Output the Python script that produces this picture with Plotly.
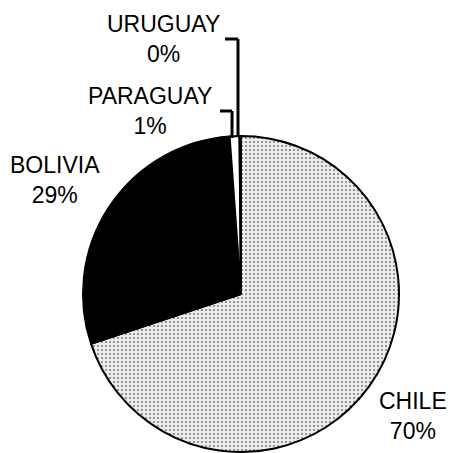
import plotly.graph_objects as go

W, H = 450, 453

countries = ["CHILE", "BOLIVIA", "PARAGUAY", "URUGUAY"]
shares = [70.0, 29.0, 1.0, 0.15]
colors = ["#ececec", "#000000", "#ffffff", "#ffffff"]

total = sum(shares)
pct_labels = [f"{round(v / total * 100):.0f}%" for v in shares]


def px(x, y):
    return x / W, 1 - y / H


# pie box in pixels (center ~ (241, 294), r ~ 158)
cx, cy, r = 241, 294, 158
x0, y_top = px(cx - r, cy - r)
x1, y_bot = px(cx + r, cy + r)

fig = go.Figure()
fig.add_trace(go.Pie(
    labels=countries,
    values=shares,
    sort=False,
    direction="clockwise",
    rotation=0,
    textinfo="none",
    hoverinfo="label+percent",
    marker=dict(
        colors=colors,
        line=dict(color="black", width=2),
        pattern=dict(
            shape=[".", "", "", ""],
            fgcolor="#808080",
            bgcolor=colors,
            size=4,
            solidity=0.22,
        ),
    ),
    domain=dict(x=[x0, x1], y=[y_bot, y_top]),
    showlegend=False,
))

# label positions (pixel centers of two-line labels)
label_pos = {
    "CHILE": (413, 416),
    "BOLIVIA": (55, 180),
    "PARAGUAY": (150, 111),
    "URUGUAY": (163, 39),
}
for name, pct in zip(countries, pct_labels):
    lx, ly = px(*label_pos[name])
    fig.add_annotation(
        x=lx, y=ly, xref="paper", yref="paper",
        text=f"{name}<br>{pct}", showarrow=False,
        xanchor="center", yanchor="middle",
        font=dict(family="Liberation Sans, Arial, sans-serif", size=23, color="black"),
    )

# leader lines
leaders = [
    [(225, 39), (238, 39), (238, 137)],
    [(220, 111), (232, 111), (232, 138)],
]
for pts in leaders:
    for (ax, ay), (bx, by) in zip(pts[:-1], pts[1:]):
        a = px(ax, ay)
        b = px(bx, by)
        fig.add_shape(type="line", xref="paper", yref="paper",
                      x0=a[0], y0=a[1], x1=b[0], y1=b[1],
                      line=dict(color="black", width=3))

fig.update_layout(
    width=W, height=H,
    margin=dict(l=0, r=0, t=0, b=0),
    paper_bgcolor="white",
    plot_bgcolor="white",
)

fig.write_html(
    "out.html",
    config={"displayModeBar": False},
    post_script="document.body.style.margin='0';document.body.style.overflow='hidden';",
)
